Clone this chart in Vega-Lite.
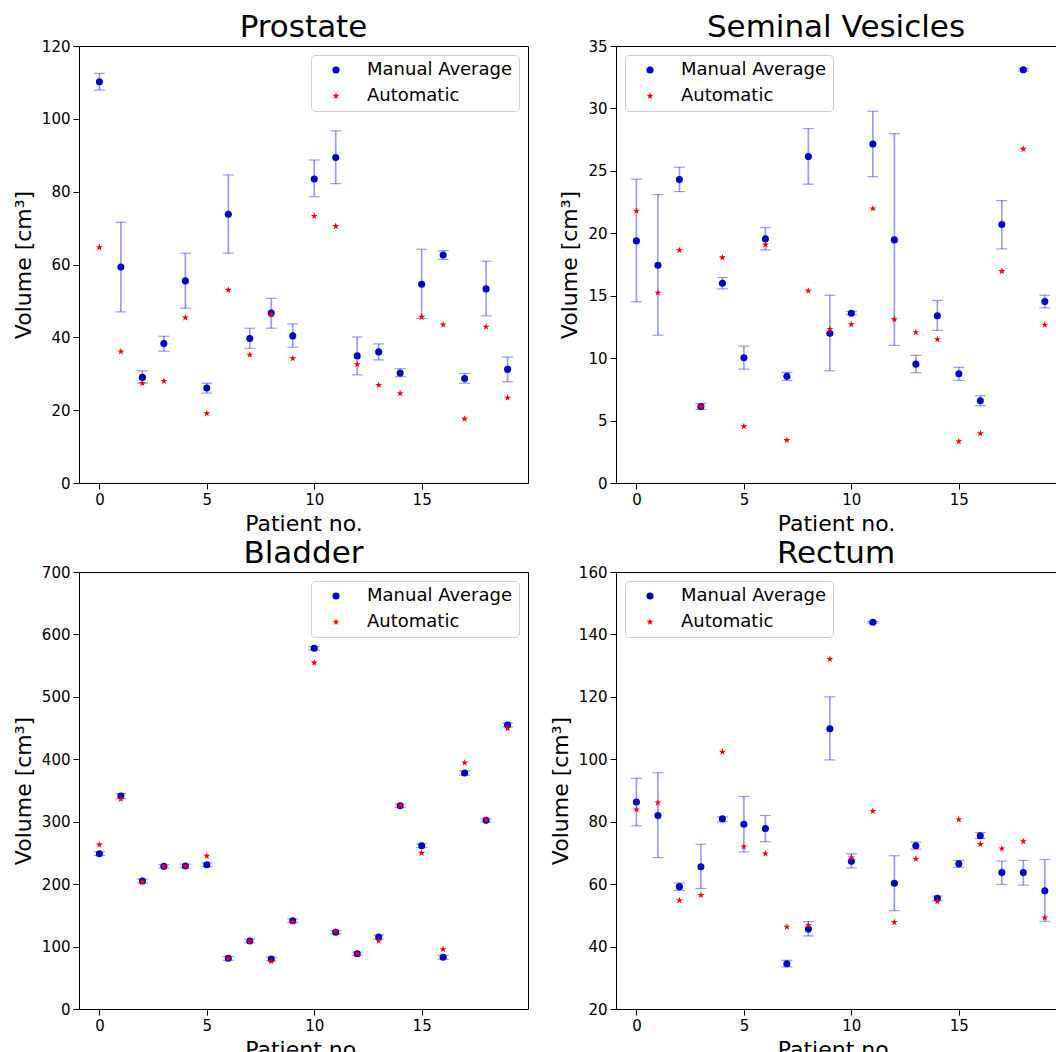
{
  "$schema": "https://vega.github.io/schema/vega-lite/v6.json",
  "padding": {"left": 11, "top": 11, "right": 0, "bottom": 0},
  "config": {
    "font": "DejaVu Sans",
    "view": {"stroke": "#000000", "strokeWidth": 1},
    "title": {"font": "DejaVu Sans", "fontSize": 31, "fontWeight": "normal", "color": "#000000", "anchor": "middle", "offset": -5},
    "axis": {"labelFont": "DejaVu Sans", "labelFontSize": 15, "labelColor": "#000000", "titleFont": "DejaVu Sans", "titleFontSize": 22, "titleFontWeight": "normal", "titleColor": "#000000", "grid": false, "domain": false, "tickColor": "#000000", "tickSize": 6, "labelPadding": 3, "titlePadding": 6},
    "legend": {"title": null, "offset": 9, "fillColor": "rgba(255,255,255,0.8)", "strokeColor": "#cccccc", "cornerRadius": 4, "padding": 6, "labelFont": "DejaVu Sans", "labelFontSize": 18, "labelColor": "#000000", "symbolSize": 50, "labelOffset": 22, "symbolOffset": 10, "rowPadding": 8, "symbolStrokeWidth": 0}
  },
  "datasets": {
    "vol": [
      {"organ": "Prostate", "patient": 0, "manual": 110.2, "lo": 107.9, "hi": 112.5, "auto": 64.7},
      {"organ": "Prostate", "patient": 1, "manual": 59.3, "lo": 47.0, "hi": 71.6, "auto": 36.1},
      {"organ": "Prostate", "patient": 2, "manual": 29.0, "lo": 27.4, "hi": 30.8, "auto": 27.4},
      {"organ": "Prostate", "patient": 3, "manual": 38.3, "lo": 36.2, "hi": 40.3, "auto": 28.0},
      {"organ": "Prostate", "patient": 4, "manual": 55.5, "lo": 48.0, "hi": 63.1, "auto": 45.4},
      {"organ": "Prostate", "patient": 5, "manual": 26.1, "lo": 24.7, "hi": 27.4, "auto": 19.1},
      {"organ": "Prostate", "patient": 6, "manual": 73.8, "lo": 63.1, "hi": 84.6, "auto": 53.0},
      {"organ": "Prostate", "patient": 7, "manual": 39.7, "lo": 37.0, "hi": 42.5, "auto": 35.2},
      {"organ": "Prostate", "patient": 8, "manual": 46.7, "lo": 42.5, "hi": 50.7, "auto": 46.2},
      {"organ": "Prostate", "patient": 9, "manual": 40.4, "lo": 37.3, "hi": 43.7, "auto": 34.2},
      {"organ": "Prostate", "patient": 10, "manual": 83.5, "lo": 78.6, "hi": 88.7, "auto": 73.3},
      {"organ": "Prostate", "patient": 11, "manual": 89.4, "lo": 82.2, "hi": 96.7, "auto": 70.5},
      {"organ": "Prostate", "patient": 12, "manual": 34.9, "lo": 29.7, "hi": 40.1, "auto": 32.6},
      {"organ": "Prostate", "patient": 13, "manual": 36.0, "lo": 33.8, "hi": 38.2, "auto": 26.9},
      {"organ": "Prostate", "patient": 14, "manual": 30.2, "lo": 29.2, "hi": 31.4, "auto": 24.6},
      {"organ": "Prostate", "patient": 15, "manual": 54.6, "lo": 45.2, "hi": 64.2, "auto": 45.6},
      {"organ": "Prostate", "patient": 16, "manual": 62.6, "lo": 61.4, "hi": 63.8, "auto": 43.5},
      {"organ": "Prostate", "patient": 17, "manual": 28.7, "lo": 27.4, "hi": 30.1, "auto": 17.6},
      {"organ": "Prostate", "patient": 18, "manual": 53.3, "lo": 45.9, "hi": 60.9, "auto": 42.9},
      {"organ": "Prostate", "patient": 19, "manual": 31.2, "lo": 27.8, "hi": 34.6, "auto": 23.4},
      {"organ": "SV", "patient": 0, "manual": 19.39, "lo": 14.51, "hi": 24.33, "auto": 21.79},
      {"organ": "SV", "patient": 1, "manual": 17.44, "lo": 11.84, "hi": 23.10, "auto": 15.23},
      {"organ": "SV", "patient": 2, "manual": 24.30, "lo": 23.34, "hi": 25.29, "auto": 18.65},
      {"organ": "SV", "patient": 3, "manual": 6.13, "lo": 5.89, "hi": 6.37, "auto": 6.13},
      {"organ": "SV", "patient": 4, "manual": 16.00, "lo": 15.55, "hi": 16.46, "auto": 18.06},
      {"organ": "SV", "patient": 5, "manual": 10.03, "lo": 9.12, "hi": 10.96, "auto": 4.53},
      {"organ": "SV", "patient": 6, "manual": 19.55, "lo": 18.67, "hi": 20.46, "auto": 19.10},
      {"organ": "SV", "patient": 7, "manual": 8.54, "lo": 8.22, "hi": 8.86, "auto": 3.44},
      {"organ": "SV", "patient": 8, "manual": 26.14, "lo": 23.93, "hi": 28.38, "auto": 15.39},
      {"organ": "SV", "patient": 9, "manual": 12.00, "lo": 8.99, "hi": 15.04, "auto": 12.32},
      {"organ": "SV", "patient": 10, "manual": 13.60, "lo": 13.47, "hi": 13.74, "auto": 12.70},
      {"organ": "SV", "patient": 11, "manual": 27.15, "lo": 24.54, "hi": 29.77, "auto": 21.98},
      {"organ": "SV", "patient": 12, "manual": 19.47, "lo": 11.02, "hi": 27.98, "auto": 13.10},
      {"organ": "SV", "patient": 13, "manual": 9.52, "lo": 8.83, "hi": 10.22, "auto": 12.06},
      {"organ": "SV", "patient": 14, "manual": 13.39, "lo": 12.22, "hi": 14.62, "auto": 11.50},
      {"organ": "SV", "patient": 15, "manual": 8.75, "lo": 8.22, "hi": 9.26, "auto": 3.33},
      {"organ": "SV", "patient": 16, "manual": 6.59, "lo": 6.19, "hi": 6.99, "auto": 3.97},
      {"organ": "SV", "patient": 17, "manual": 20.70, "lo": 18.75, "hi": 22.62, "auto": 16.96},
      {"organ": "SV", "patient": 18, "manual": 33.10, "lo": 33.0, "hi": 33.2, "auto": 26.75},
      {"organ": "SV", "patient": 19, "manual": 14.54, "lo": 14.03, "hi": 15.04, "auto": 12.67},
      {"organ": "Bladder", "patient": 0, "manual": 248.8, "lo": 246, "hi": 252, "auto": 263.2},
      {"organ": "Bladder", "patient": 1, "manual": 341.2, "lo": 337, "hi": 345, "auto": 336.4},
      {"organ": "Bladder", "patient": 2, "manual": 205.0, "lo": 202, "hi": 208, "auto": 203.4},
      {"organ": "Bladder", "patient": 3, "manual": 228.5, "lo": 226, "hi": 231, "auto": 228.5},
      {"organ": "Bladder", "patient": 4, "manual": 229.0, "lo": 226, "hi": 232, "auto": 229.0},
      {"organ": "Bladder", "patient": 5, "manual": 231.2, "lo": 228, "hi": 234, "auto": 245.1},
      {"organ": "Bladder", "patient": 6, "manual": 81.2, "lo": 78, "hi": 84, "auto": 81.2},
      {"organ": "Bladder", "patient": 7, "manual": 108.9, "lo": 106, "hi": 112, "auto": 108.4},
      {"organ": "Bladder", "patient": 8, "manual": 80.1, "lo": 77, "hi": 83, "auto": 76.3},
      {"organ": "Bladder", "patient": 9, "manual": 141.5, "lo": 138.5, "hi": 144.5, "auto": 139.3},
      {"organ": "Bladder", "patient": 10, "manual": 577.7, "lo": 575, "hi": 580.5, "auto": 554.7},
      {"organ": "Bladder", "patient": 11, "manual": 122.8, "lo": 120, "hi": 125.5, "auto": 124.4},
      {"organ": "Bladder", "patient": 12, "manual": 88.6, "lo": 86, "hi": 91, "auto": 88.6},
      {"organ": "Bladder", "patient": 13, "manual": 115.3, "lo": 112, "hi": 118.5, "auto": 109.4},
      {"organ": "Bladder", "patient": 14, "manual": 325.7, "lo": 323, "hi": 328.5, "auto": 325.7},
      {"organ": "Bladder", "patient": 15, "manual": 261.6, "lo": 258.5, "hi": 264.5, "auto": 249.9},
      {"organ": "Bladder", "patient": 16, "manual": 82.8, "lo": 79.5, "hi": 86, "auto": 95.6},
      {"organ": "Bladder", "patient": 17, "manual": 378.0, "lo": 374.5, "hi": 381.5, "auto": 394.6},
      {"organ": "Bladder", "patient": 18, "manual": 302.2, "lo": 299.5, "hi": 305, "auto": 303.3},
      {"organ": "Bladder", "patient": 19, "manual": 454.9, "lo": 452, "hi": 458, "auto": 449.5},
      {"organ": "Rectum", "patient": 0, "manual": 86.3, "lo": 78.7, "hi": 93.9, "auto": 83.9},
      {"organ": "Rectum", "patient": 1, "manual": 82.0, "lo": 68.5, "hi": 95.7, "auto": 86.1},
      {"organ": "Rectum", "patient": 2, "manual": 59.2, "lo": 58.0, "hi": 60.4, "auto": 54.8},
      {"organ": "Rectum", "patient": 3, "manual": 65.6, "lo": 58.6, "hi": 72.8, "auto": 56.5},
      {"organ": "Rectum", "patient": 4, "manual": 80.9, "lo": 80.0, "hi": 81.6, "auto": 102.4},
      {"organ": "Rectum", "patient": 5, "manual": 79.2, "lo": 70.3, "hi": 88.1, "auto": 72.0},
      {"organ": "Rectum", "patient": 6, "manual": 77.8, "lo": 73.6, "hi": 82.0, "auto": 69.8},
      {"organ": "Rectum", "patient": 7, "manual": 34.5, "lo": 33.5, "hi": 35.6, "auto": 46.3},
      {"organ": "Rectum", "patient": 8, "manual": 45.6, "lo": 43.4, "hi": 48.0, "auto": 46.9},
      {"organ": "Rectum", "patient": 9, "manual": 109.8, "lo": 99.8, "hi": 120.0, "auto": 132.1},
      {"organ": "Rectum", "patient": 10, "manual": 67.3, "lo": 65.2, "hi": 69.7, "auto": 68.5},
      {"organ": "Rectum", "patient": 11, "manual": 143.9, "lo": 143.6, "hi": 144.2, "auto": 83.4},
      {"organ": "Rectum", "patient": 12, "manual": 60.3, "lo": 51.5, "hi": 69.1, "auto": 47.8},
      {"organ": "Rectum", "patient": 13, "manual": 72.3, "lo": 71.2, "hi": 73.5, "auto": 68.1},
      {"organ": "Rectum", "patient": 14, "manual": 55.5, "lo": 54.7, "hi": 56.2, "auto": 54.4},
      {"organ": "Rectum", "patient": 15, "manual": 66.5, "lo": 65.4, "hi": 67.6, "auto": 80.7},
      {"organ": "Rectum", "patient": 16, "manual": 75.5, "lo": 74.6, "hi": 76.5, "auto": 72.8},
      {"organ": "Rectum", "patient": 17, "manual": 63.7, "lo": 59.9, "hi": 67.4, "auto": 71.4},
      {"organ": "Rectum", "patient": 18, "manual": 63.7, "lo": 59.7, "hi": 67.6, "auto": 73.7},
      {"organ": "Rectum", "patient": 19, "manual": 57.9, "lo": 48.1, "hi": 67.9, "auto": 49.3}
    ]
  },
  "data": {"name": "vol"},
  "columns": 2,
  "spacing": {"row": 2, "column": 19},
  "resolve": {"scale": {"color": "independent", "shape": "independent"}},
  "concat": [
    {
      "title": "Prostate",
      "width": 449, "height": 437,
      "transform": [{"filter": "datum.organ === 'Prostate'"}],
      "layer": [
        {"mark": {"type": "rule", "color": "#0000ff", "opacity": 0.4, "strokeWidth": 1.7},
         "encoding": {
           "x": {"field": "patient", "type": "quantitative", "scale": {"domain": [-0.95, 19.95], "nice": false, "zero": false}, "axis": {"values": [0, 5, 10, 15], "title": "Patient no."}},
           "y": {"field": "lo", "type": "quantitative", "scale": {"domain": [0, 120], "nice": false}, "axis": {"values": [0, 20, 40, 60, 80, 100, 120], "title": "Volume [cm³]"}},
           "y2": {"field": "hi"}}},
        {"mark": {"type": "tick", "orient": "horizontal", "color": "#0000ff", "opacity": 0.4, "thickness": 1.2, "size": 11},
         "encoding": {"x": {"field": "patient", "type": "quantitative"}, "y": {"field": "lo", "type": "quantitative"}}},
        {"mark": {"type": "tick", "orient": "horizontal", "color": "#0000ff", "opacity": 0.4, "thickness": 1.2, "size": 11},
         "encoding": {"x": {"field": "patient", "type": "quantitative"}, "y": {"field": "hi", "type": "quantitative"}}},
        {"transform": [{"fold": ["manual", "auto"], "as": ["series", "value"]}],
         "mark": {"type": "point", "filled": true, "opacity": 1, "size": 50, "strokeWidth": 0},
         "encoding": {
           "x": {"field": "patient", "type": "quantitative"},
           "y": {"field": "value", "type": "quantitative"},
           "color": {"field": "series", "type": "nominal", "scale": {"domain": ["manual", "auto"], "range": ["#0000cc", "#ff0000"]}, "legend": {"orient": "top-right", "labelExpr": "datum.label === 'manual' ? 'Manual Average' : 'Automatic'"}},
           "shape": {"field": "series", "type": "nominal", "scale": {"domain": ["manual", "auto"], "range": ["circle", "M0,-1.05L0.236,-0.324L0.999,-0.324L0.381,0.124L0.617,0.849L0,0.401L-0.617,0.849L-0.381,0.124L-0.999,-0.324L-0.236,-0.324Z"]}, "legend": {"orient": "top-right", "labelExpr": "datum.label === 'manual' ? 'Manual Average' : 'Automatic'"}}}}
      ]
    },
    {
      "title": "Seminal Vesicles",
      "width": 440, "height": 437,
      "transform": [{"filter": "datum.organ === 'SV'"}],
      "layer": [
        {"mark": {"type": "rule", "color": "#0000ff", "opacity": 0.4, "strokeWidth": 1.7},
         "encoding": {
           "x": {"field": "patient", "type": "quantitative", "scale": {"domain": [-0.95, 19.52], "nice": false, "zero": false}, "axis": {"values": [0, 5, 10, 15], "title": "Patient no."}},
           "y": {"field": "lo", "type": "quantitative", "scale": {"domain": [0, 35], "nice": false}, "axis": {"values": [0, 5, 10, 15, 20, 25, 30, 35], "title": "Volume [cm³]"}},
           "y2": {"field": "hi"}}},
        {"mark": {"type": "tick", "orient": "horizontal", "color": "#0000ff", "opacity": 0.4, "thickness": 1.2, "size": 11},
         "encoding": {"x": {"field": "patient", "type": "quantitative"}, "y": {"field": "lo", "type": "quantitative"}}},
        {"mark": {"type": "tick", "orient": "horizontal", "color": "#0000ff", "opacity": 0.4, "thickness": 1.2, "size": 11},
         "encoding": {"x": {"field": "patient", "type": "quantitative"}, "y": {"field": "hi", "type": "quantitative"}}},
        {"transform": [{"fold": ["manual", "auto"], "as": ["series", "value"]}],
         "mark": {"type": "point", "filled": true, "opacity": 1, "size": 50, "strokeWidth": 0},
         "encoding": {
           "x": {"field": "patient", "type": "quantitative"},
           "y": {"field": "value", "type": "quantitative"},
           "color": {"field": "series", "type": "nominal", "scale": {"domain": ["manual", "auto"], "range": ["#0000cc", "#ff0000"]}, "legend": {"orient": "top-left", "labelExpr": "datum.label === 'manual' ? 'Manual Average' : 'Automatic'"}},
           "shape": {"field": "series", "type": "nominal", "scale": {"domain": ["manual", "auto"], "range": ["circle", "M0,-1.05L0.236,-0.324L0.999,-0.324L0.381,0.124L0.617,0.849L0,0.401L-0.617,0.849L-0.381,0.124L-0.999,-0.324L-0.236,-0.324Z"]}, "legend": {"orient": "top-left", "labelExpr": "datum.label === 'manual' ? 'Manual Average' : 'Automatic'"}}}}
      ]
    },
    {
      "title": "Bladder",
      "width": 449, "height": 437,
      "transform": [{"filter": "datum.organ === 'Bladder'"}],
      "layer": [
        {"mark": {"type": "rule", "color": "#0000ff", "opacity": 0.4, "strokeWidth": 1.7},
         "encoding": {
           "x": {"field": "patient", "type": "quantitative", "scale": {"domain": [-0.95, 19.95], "nice": false, "zero": false}, "axis": {"values": [0, 5, 10, 15], "title": "Patient no."}},
           "y": {"field": "lo", "type": "quantitative", "scale": {"domain": [0, 700], "nice": false}, "axis": {"values": [0, 100, 200, 300, 400, 500, 600, 700], "title": "Volume [cm³]"}},
           "y2": {"field": "hi"}}},
        {"mark": {"type": "tick", "orient": "horizontal", "color": "#0000ff", "opacity": 0.4, "thickness": 1.2, "size": 11},
         "encoding": {"x": {"field": "patient", "type": "quantitative"}, "y": {"field": "lo", "type": "quantitative"}}},
        {"mark": {"type": "tick", "orient": "horizontal", "color": "#0000ff", "opacity": 0.4, "thickness": 1.2, "size": 11},
         "encoding": {"x": {"field": "patient", "type": "quantitative"}, "y": {"field": "hi", "type": "quantitative"}}},
        {"transform": [{"fold": ["manual", "auto"], "as": ["series", "value"]}],
         "mark": {"type": "point", "filled": true, "opacity": 1, "size": 50, "strokeWidth": 0},
         "encoding": {
           "x": {"field": "patient", "type": "quantitative"},
           "y": {"field": "value", "type": "quantitative"},
           "color": {"field": "series", "type": "nominal", "scale": {"domain": ["manual", "auto"], "range": ["#0000cc", "#ff0000"]}, "legend": {"orient": "top-right", "labelExpr": "datum.label === 'manual' ? 'Manual Average' : 'Automatic'"}},
           "shape": {"field": "series", "type": "nominal", "scale": {"domain": ["manual", "auto"], "range": ["circle", "M0,-1.05L0.236,-0.324L0.999,-0.324L0.381,0.124L0.617,0.849L0,0.401L-0.617,0.849L-0.381,0.124L-0.999,-0.324L-0.236,-0.324Z"]}, "legend": {"orient": "top-right", "labelExpr": "datum.label === 'manual' ? 'Manual Average' : 'Automatic'"}}}}
      ]
    },
    {
      "title": "Rectum",
      "width": 440, "height": 437,
      "transform": [{"filter": "datum.organ === 'Rectum'"}],
      "layer": [
        {"mark": {"type": "rule", "color": "#0000ff", "opacity": 0.4, "strokeWidth": 1.7},
         "encoding": {
           "x": {"field": "patient", "type": "quantitative", "scale": {"domain": [-0.95, 19.52], "nice": false, "zero": false}, "axis": {"values": [0, 5, 10, 15], "title": "Patient no."}},
           "y": {"field": "lo", "type": "quantitative", "scale": {"domain": [20, 160], "nice": false, "zero": false}, "axis": {"values": [20, 40, 60, 80, 100, 120, 140, 160], "title": "Volume [cm³]"}},
           "y2": {"field": "hi"}}},
        {"mark": {"type": "tick", "orient": "horizontal", "color": "#0000ff", "opacity": 0.4, "thickness": 1.2, "size": 11},
         "encoding": {"x": {"field": "patient", "type": "quantitative"}, "y": {"field": "lo", "type": "quantitative"}}},
        {"mark": {"type": "tick", "orient": "horizontal", "color": "#0000ff", "opacity": 0.4, "thickness": 1.2, "size": 11},
         "encoding": {"x": {"field": "patient", "type": "quantitative"}, "y": {"field": "hi", "type": "quantitative"}}},
        {"transform": [{"fold": ["manual", "auto"], "as": ["series", "value"]}],
         "mark": {"type": "point", "filled": true, "opacity": 1, "size": 50, "strokeWidth": 0},
         "encoding": {
           "x": {"field": "patient", "type": "quantitative"},
           "y": {"field": "value", "type": "quantitative"},
           "color": {"field": "series", "type": "nominal", "scale": {"domain": ["manual", "auto"], "range": ["#0000cc", "#ff0000"]}, "legend": {"orient": "top-left", "labelExpr": "datum.label === 'manual' ? 'Manual Average' : 'Automatic'"}},
           "shape": {"field": "series", "type": "nominal", "scale": {"domain": ["manual", "auto"], "range": ["circle", "M0,-1.05L0.236,-0.324L0.999,-0.324L0.381,0.124L0.617,0.849L0,0.401L-0.617,0.849L-0.381,0.124L-0.999,-0.324L-0.236,-0.324Z"]}, "legend": {"orient": "top-left", "labelExpr": "datum.label === 'manual' ? 'Manual Average' : 'Automatic'"}}}}
      ]
    }
  ]
}
